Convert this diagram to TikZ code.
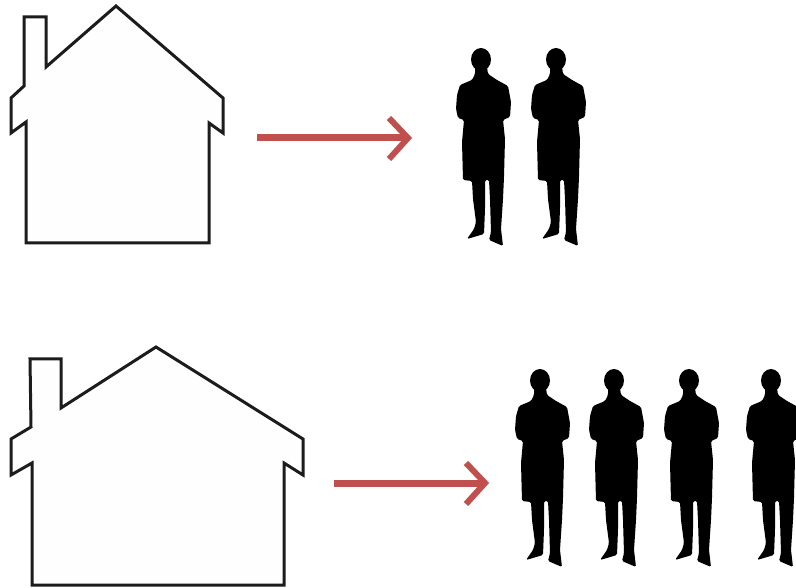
\documentclass[tikz,border=0pt]{standalone}
\definecolor{arrowred}{HTML}{C0504D}
\definecolor{wall}{HTML}{FEFEFE}
\definecolor{outline}{HTML}{1C1C1C}
\tikzset{
  x=1pt,y=-1pt,
  houseline/.style={draw=outline,line width=3pt,fill=wall,line join=miter,miter limit=4},
  arrowline/.style={draw=arrowred,line width=7pt},
  arrowhead/.style={draw=arrowred,line width=6pt,line join=miter},
  person/.pic={
    \fill[black] (0,0.5) ellipse [x radius=10,y radius=11.5];
    \fill[black,rounded corners=1.5pt]
      (-6,8) -- (-6,15) -- (-9,21) -- (-21,26) -- (-24,36) -- (-25,50) -- (-23,59) -- (-17,61)
      -- (-19,83) -- (-18,121) -- (-9,122) -- (-8,140) -- (-5,163) -- (-7,170) -- (-14,180)
      -- (3,175) -- (4,150) -- (4,121) -- (8,121) -- (9,140) -- (10,173) -- (8,181)
      -- (22,187) -- (20,170) -- (22,140) -- (23,118) -- (24,80) -- (22,61)
      -- (29,58) -- (30,43) -- (27,27) -- (16,21) -- (7,15) -- (6,8) -- cycle;
  }
}
\begin{document}
\begin{tikzpicture}
\useasboundingbox (0,0) rectangle (796,588);
\fill[white] (0,0) rectangle (796,588);
% upper house
\draw[houseline] (24,17) -- (46,17) -- (46,67) -- (116,6) -- (223,98) -- (223,133) -- (209,123)
  -- (209,243) -- (26,243) -- (26,122) -- (11,133) -- (11,98) -- (24,86) -- cycle;
% lower house
\draw[houseline] (30,359) -- (61,359) -- (61,408) -- (156,347) -- (303,439) -- (303,475) -- (284,463)
  -- (284,585) -- (32,585) -- (32,463) -- (11,475) -- (11,439) -- (31,427) -- cycle;
% arrows
\coordinate (a1s) at (257,138); \coordinate (a1e) at (408,138);
\coordinate (a1u) at (389,118); \coordinate (a1d) at (389,159);
\draw[arrowline] (a1s) -- (a1e);
\draw[arrowhead] (a1u) -- (a1e) -- (a1d);
\coordinate (a2s) at (334,483); \coordinate (a2e) at (485,483);
\coordinate (a2u) at (466,463); \coordinate (a2d) at (466,504);
\draw[arrowline] (a2s) -- (a2e);
\draw[arrowhead] (a2u) -- (a2e) -- (a2d);
% people
\pic at (481,59) {person};
\pic at (556,59) {person};
\pic at (540,380) {person};
\pic at (614,380) {person};
\pic at (689,380) {person};
\pic at (771,380) {person};
\end{tikzpicture}
\end{document}
